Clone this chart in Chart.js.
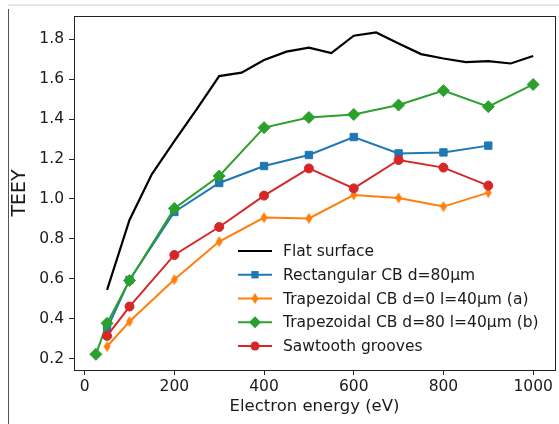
<!DOCTYPE html>
<html>
<head>
<meta charset="utf-8">
<script src="https://cdn.jsdelivr.net/npm/chart.js@4/dist/chart.umd.min.js"></script>
<style>
  html, body { margin: 0; padding: 0; background: #fff; overflow: hidden; }
  #wrap { width: 562px; height: 424px; }
</style>
</head>
<body>
<div id="wrap"><canvas id="teey" width="562" height="424"></canvas></div>
<script>
// electron energy (eV) and TEEY
const flatEnergy = [50, 100, 150, 200, 250, 300, 350, 400, 450, 500, 550, 600, 650, 700, 750, 800, 850, 900, 950, 1000];
const flatTeey = [0.545, 0.895, 1.125, 1.29, 1.45, 1.615, 1.632, 1.695, 1.737, 1.757, 1.73, 1.817, 1.833, 1.778, 1.725, 1.703, 1.685, 1.69, 1.678, 1.715];

const grooveEnergy = [50, 100, 200, 300, 400, 500, 600, 700, 800, 900];
const rectTeey = [0.35, 0.595, 0.935, 1.08, 1.165, 1.22, 1.31, 1.228, 1.233, 1.267];
const trapATeey = [0.262, 0.387, 0.597, 0.787, 0.907, 0.903, 1.02, 1.005, 0.962, 1.032];
const sawTeey = [0.315, 0.462, 0.72, 0.86, 1.017, 1.153, 1.053, 1.195, 1.157, 1.067];

const trapBEnergy = [25, 50, 100, 200, 300, 400, 500, 600, 700, 800, 900, 1000];
const trapBTeey = [0.223, 0.378, 0.592, 0.953, 1.115, 1.357, 1.408, 1.423, 1.47, 1.542, 1.462, 1.573];

const xTicks = [0, 200, 400, 600, 800, 1000];
const yTicks = [0.2, 0.4, 0.6, 0.8, 1.0, 1.2, 1.4, 1.6, 1.8];

const FONT = "'DejaVu Sans', sans-serif";
Chart.defaults.font.family = FONT;
Chart.defaults.color = "#1a1a1a";

const pts = (xs, ys) => xs.map((x, i) => ({ x: x, y: ys[i] }));

// thin diamond marker (matplotlib 'd') as a small canvas
function thinDiamond(color) {
    const c = document.createElement("canvas");
    c.width = 8; c.height = 12;
    const g = c.getContext("2d");
    g.fillStyle = color;
    g.beginPath();
    g.moveTo(4, 0.5);
    g.lineTo(7.5, 6);
    g.lineTo(4, 11.5);
    g.lineTo(0.5, 6);
    g.closePath();
    g.fill();
    return c;
}

function series(label, data, color, style, radius, order) {
    return {
        label: label,
        data: data,
        borderColor: color,
        backgroundColor: color,
        pointBackgroundColor: color,
        pointBorderColor: color,
        pointBorderWidth: 1,
        pointStyle: style,
        pointRadius: radius,
        pointHoverRadius: radius,
        borderWidth: 2,
        tension: 0,
        fill: false,
        order: order
    };
}

const datasets = [
    Object.assign(series("Flat surface", pts(flatEnergy, flatTeey), "#000000", "line", 0, 5), { borderWidth: 2.2 }),
    series("Rectangular CB d=80μm", pts(grooveEnergy, rectTeey), "#1f77b4", "rect", 5.2, 4),
    series("Trapezoidal CB d=0 l=40μm (a)", pts(grooveEnergy, trapATeey), "#ff7f0e", thinDiamond("#ff7f0e"), 6, 3),
    series("Trapezoidal CB d=80 l=40μm (b)", pts(trapBEnergy, trapBTeey), "#2ca02c", "rectRot", 6, 2),
    series("Sawtooth grooves", pts(grooveEnergy, sawTeey), "#d62728", "circle", 4.5, 1)
];

function drawMarker(ctx, ds, x, y) {
    const st = ds.pointStyle, r = ds.pointRadius;
    ctx.fillStyle = ds.pointBackgroundColor;
    if (st instanceof HTMLCanvasElement) {
        ctx.drawImage(st, x - st.width / 2, y - st.height / 2);
        return;
    }
    if (!r) return;
    ctx.beginPath();
    if (st === "rect") {
        const s = r * Math.SQRT1_2;
        ctx.rect(x - s, y - s, 2 * s, 2 * s);
    } else if (st === "rectRot") {
        ctx.moveTo(x, y - r); ctx.lineTo(x + r, y); ctx.lineTo(x, y + r); ctx.lineTo(x - r, y);
        ctx.closePath();
    } else {
        ctx.arc(x, y, r, 0, Math.PI * 2);
    }
    ctx.fill();
}

const frameAndLegend = {
    id: "frameAndLegend",
    afterDraw(chart) {
        const ctx = chart.ctx;
        const a = chart.chartArea;
        ctx.save();
        // page decorations around the figure
        ctx.strokeStyle = "#e6e6e6";
        ctx.lineWidth = 2;
        ctx.beginPath(); ctx.moveTo(8, 5); ctx.lineTo(562, 5); ctx.stroke();
        ctx.strokeStyle = "#555";
        ctx.lineWidth = 1;
        ctx.beginPath(); ctx.moveTo(8.5, 9); ctx.lineTo(8.5, 424); ctx.stroke();

        // axes frame
        ctx.strokeStyle = "#222";
        ctx.lineWidth = 1;
        ctx.strokeRect(Math.round(a.left) + 0.5, Math.round(a.top) + 0.5, a.right - a.left, a.bottom - a.top);

        // legend
        ctx.font = "15.5px " + FONT;
        ctx.textBaseline = "middle";
        ctx.textAlign = "left";
        chart.data.datasets.forEach((ds, i) => {
            const y = 251 + i * 23.75;
            ctx.strokeStyle = ds.borderColor;
            ctx.lineWidth = ds.borderWidth;
            ctx.beginPath(); ctx.moveTo(238, y); ctx.lineTo(272, y); ctx.stroke();
            drawMarker(ctx, ds, 255, y);
            ctx.fillStyle = "#1a1a1a";
            ctx.fillText(ds.label, 283, y + 1);
        });
        ctx.restore();
    }
};

new Chart(document.getElementById("teey"), {
    type: "line",
    data: { datasets: datasets },
    options: {
        responsive: false,
        animation: false,
        events: [],
        layout: { padding: { left: 0, top: 16, right: 2, bottom: 0 } },
        plugins: { legend: { display: false }, tooltip: { enabled: false } },
        scales: {
            x: {
                type: "linear",
                min: -23.75,
                max: 1048.75,
                afterBuildTicks: axis => { axis.ticks = xTicks.map(v => ({ value: v })); },
                afterFit: axis => { axis.height = 54; axis.paddingLeft = 0; axis.paddingRight = 0; },
                ticks: { font: { size: 15.5 }, color: "#1a1a1a", padding: 3, maxRotation: 0, autoSkip: false, callback: v => String(v) },
                grid: { drawOnChartArea: false, drawTicks: true, tickLength: 5, tickColor: "#222" },
                border: { display: false },
                title: { display: true, text: "Electron energy (eV)", font: { size: 16.5 }, color: "#1a1a1a", padding: { top: 0, bottom: 7 } }
            },
            y: {
                type: "linear",
                min: 0.1445,
                max: 1.9155,
                afterBuildTicks: axis => { axis.ticks = yTicks.map(v => ({ value: v })); },
                afterFit: axis => { axis.width = 74; axis.paddingTop = 0; axis.paddingBottom = 0; },
                ticks: { font: { size: 15.5 }, color: "#1a1a1a", padding: 5, autoSkip: false, callback: v => v.toFixed(1) },
                grid: { drawOnChartArea: false, drawTicks: true, tickLength: 5, tickColor: "#222" },
                border: { display: false },
                title: { display: true, text: "TEEY", font: { size: 19 }, color: "#1a1a1a", padding: { top: 9, bottom: 0 } }
            }
        }
    },
    plugins: [frameAndLegend]
});
</script>
</body>
</html>
